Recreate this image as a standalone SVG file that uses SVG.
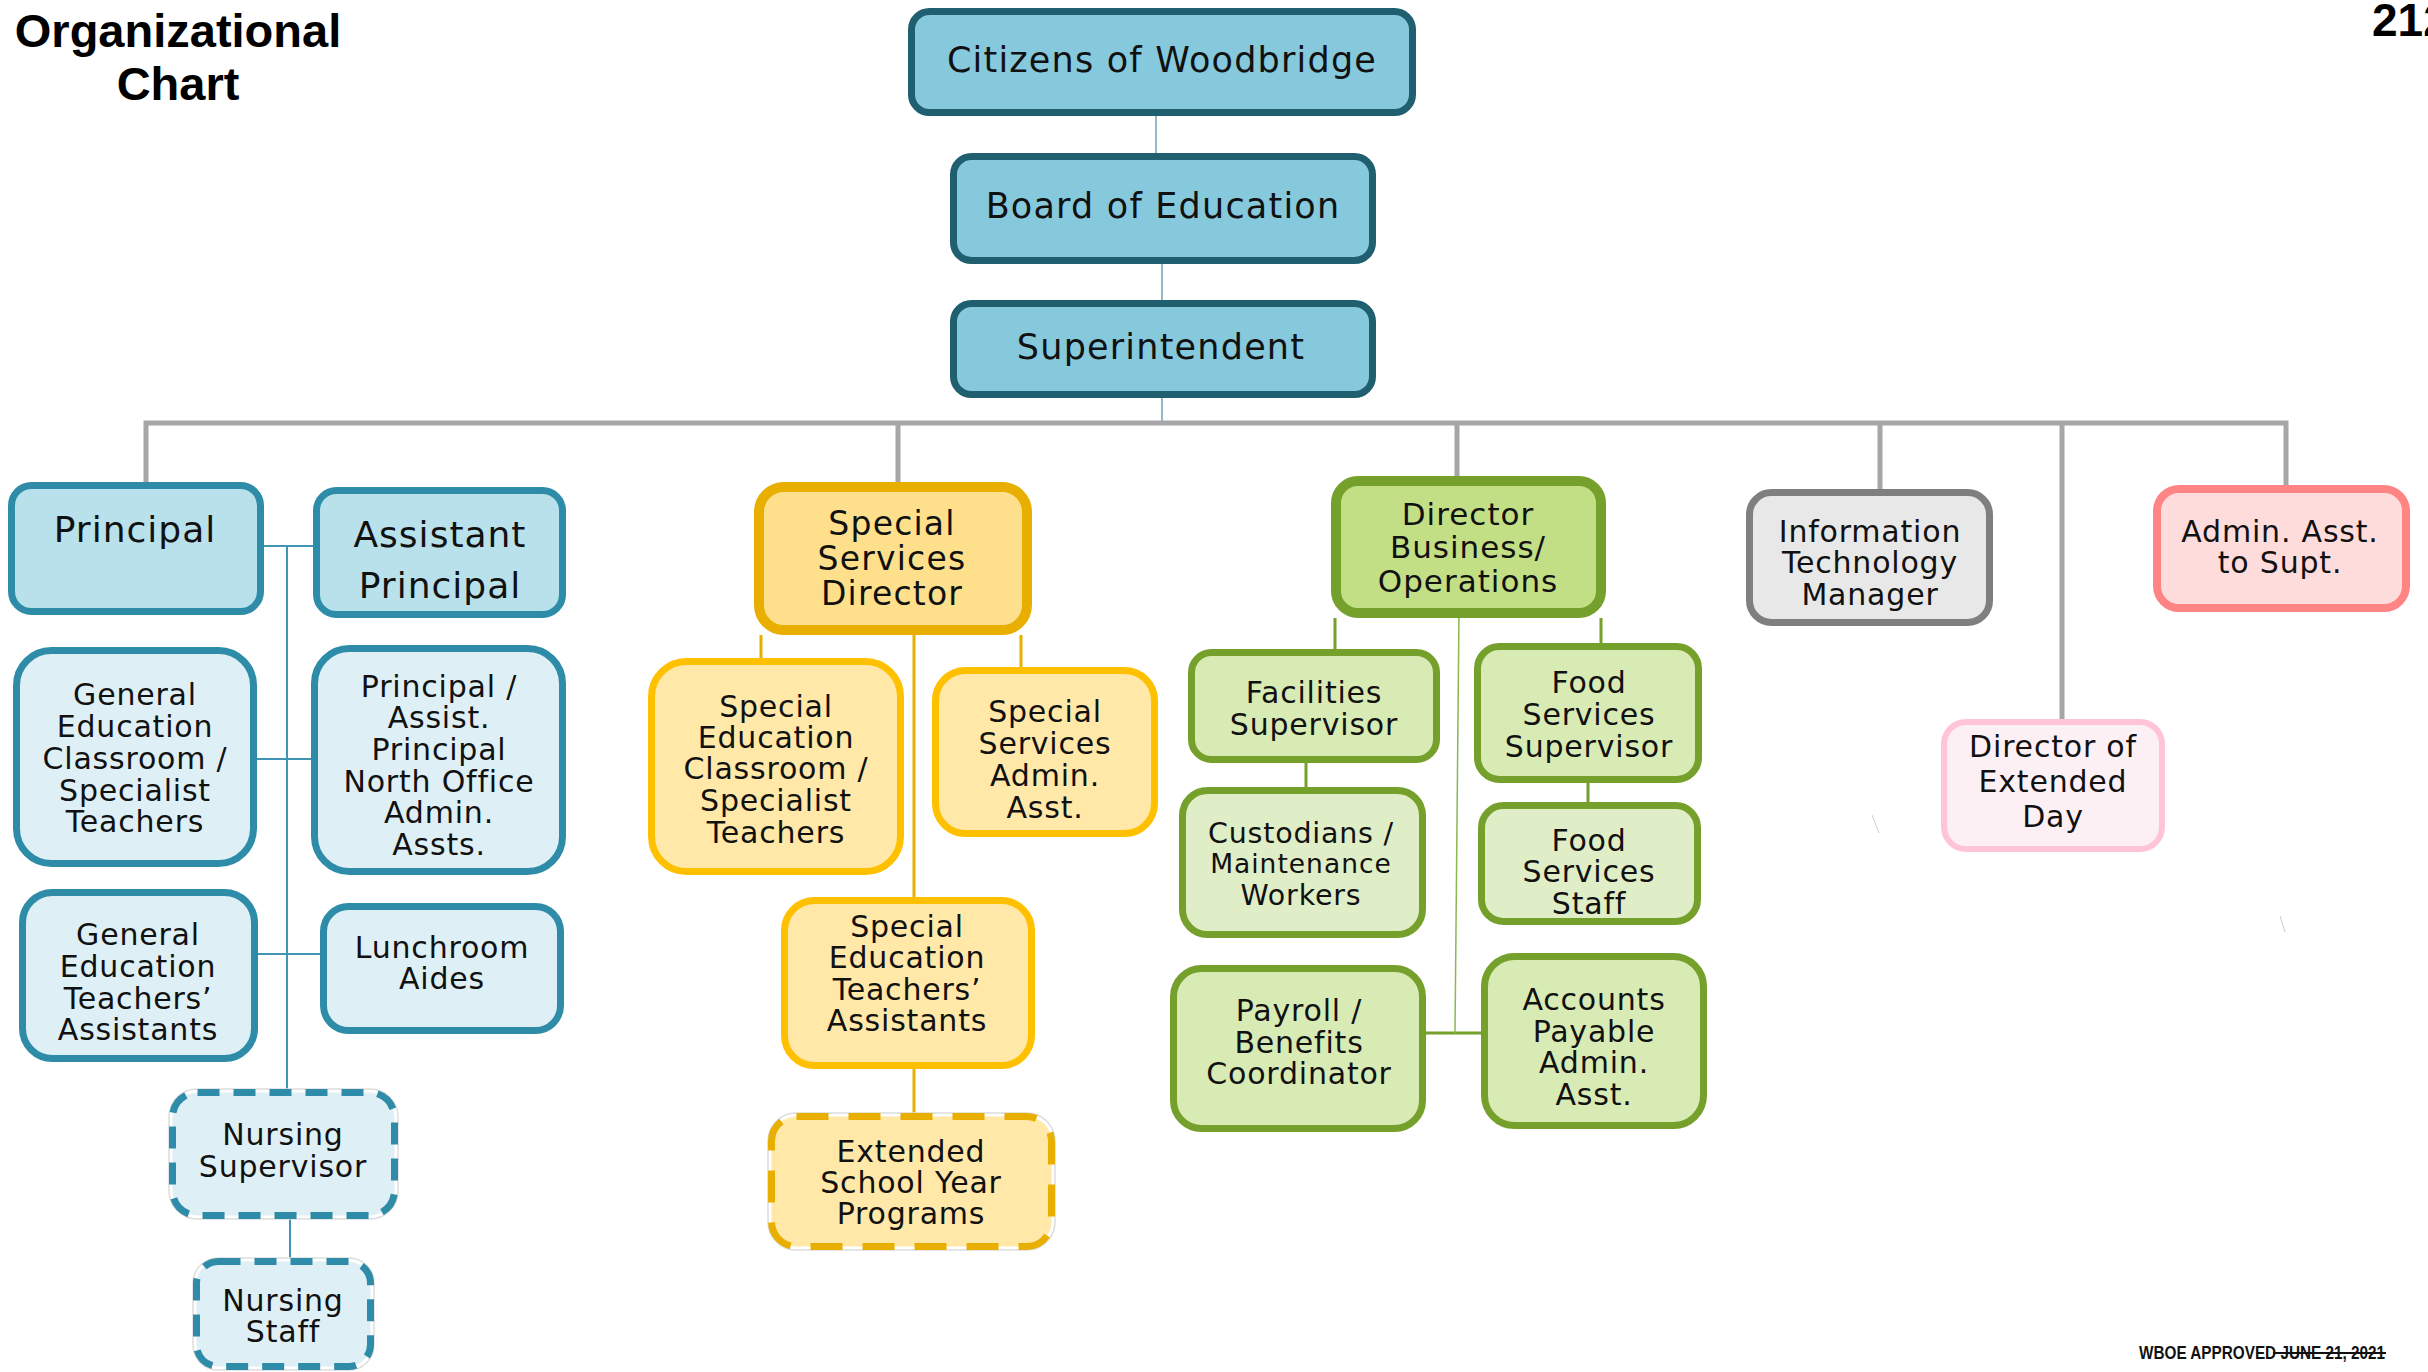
<svg xmlns="http://www.w3.org/2000/svg" width="2428" height="1372" viewBox="0 0 2428 1372">
<style>
.t{font-family:"DejaVu Sans",Verdana,sans-serif;fill:#111;text-anchor:middle}
.t1{font-size:35px;letter-spacing:1.2px}
.t2{font-size:36px;letter-spacing:1px}
.t3{font-size:33px;letter-spacing:1.2px}
.t4{font-size:31px;letter-spacing:1px}
.b{font-size:30px;letter-spacing:0.8px}
.top{fill:#86c9dc;stroke:#1f5f70;stroke-width:7}
.pr{fill:#b8e1eb;stroke:#2e8ca8;stroke-width:7}
.lb{fill:#def0f6;stroke:#2e8ca8;stroke-width:7}
.lbd{fill:#def0f6;stroke:#2e8ca8;stroke-width:7;stroke-dasharray:22 14}
.ssd{fill:#fee08c;stroke:#e8ae00;stroke-width:10}
.ye{fill:#ffe8a8;stroke:#ffc000;stroke-width:7}
.yed{fill:#ffe8a8;stroke:#e8ae00;stroke-width:7;stroke-dasharray:32 20}
.dbo{fill:#c3df86;stroke:#76a02c;stroke-width:10}
.gr{fill:#d8ebb5;stroke:#76a02c;stroke-width:7}
.gr2{fill:#dfeec6;stroke:#76a02c;stroke-width:7}
.it{fill:#e8e8e8;stroke:#7f7f7f;stroke-width:7}
.ad{fill:#ffdcdc;stroke:#ff8585;stroke-width:8}
.ex{fill:#fdf0f5;stroke:#ffc3da;stroke-width:6}
.ghost{fill:none;stroke:#dddddd;stroke-width:1.5}
.c-gray{fill:none;stroke:#a6a6a6;stroke-width:5}
.c-top{fill:none;stroke:#6fa3b3;stroke-width:1.5}
.c-teal{fill:none;stroke:#3f95b3;stroke-width:2}
.c-gold{fill:none;stroke:#e8ae00;stroke-width:3}
.c-green{fill:none;stroke:#76a02c;stroke-width:3}
.c-green-thin{fill:none;stroke:#8bb850;stroke-width:1.5}
</style>
<rect width="2428" height="1372" fill="#ffffff"/>

<g id="title">
<text x="178" y="47" font-family="Liberation Sans, Arial, sans-serif" font-weight="bold" font-size="47" text-anchor="middle" fill="#000">Organizational</text>
<text x="178" y="100" font-family="Liberation Sans, Arial, sans-serif" font-weight="bold" font-size="47" text-anchor="middle" fill="#000">Chart</text>
</g>
<text id="page-number" x="2372" y="36" font-family="Liberation Sans, Arial, sans-serif" font-weight="bold" font-size="46" fill="#000">212</text>

<g id="connectors">
<path class="c-top" d="M1156,116V153M1162,264V300M1162,398V423"/>
<path class="c-gray" d="M146,483V423H2286V487M898,423V484M1457,423V478M1880,423V491M2062,423V720"/>
<path class="c-teal" d="M264,546H313M287,546V1089M257,759H311M258,954H320M290,1219V1258"/>
<path class="c-gold" d="M761,635V658M914,625V897M1021,635V667M914,1069V1113"/>
<path class="c-green" d="M1335,618V649M1601,618V643M1306,763V787M1588,783V802M1426,1033H1481"/>
<path class="c-green-thin" d="M1459,612L1455,1033"/>
</g>

<g id="citizens"><rect class="top" x="911.5" y="11.5" width="501" height="101" rx="18"/><text class="t t1" x="1162" y="72">Citizens of Woodbridge</text></g>
<g id="board"><rect class="top" x="953.5" y="156.5" width="419" height="104" rx="18"/><text class="t t1" x="1163" y="218">Board of Education</text></g>
<g id="superintendent"><rect class="top" x="953.5" y="303.5" width="419" height="91" rx="18"/><text class="t t1" x="1161" y="359">Superintendent</text></g>

<g id="principal"><rect class="pr" x="11.5" y="485.5" width="249" height="126" rx="20"/><text class="t t2" x="135" y="542">Principal</text></g>
<g id="assistant-principal"><rect class="pr" x="316.5" y="490.5" width="246" height="124" rx="20"/><text class="t t2" x="440" y="547">Assistant</text><text class="t t2" x="440" y="598">Principal</text></g>
<g id="gen-ed-teachers"><rect class="lb" x="16.5" y="650.5" width="237" height="213" rx="35"/>
<text class="t b" x="135" y="705">General</text><text class="t b" x="135" y="737">Education</text><text class="t b" x="135" y="769">Classroom /</text><text class="t b" x="135" y="801">Specialist</text><text class="t b" x="135" y="832">Teachers</text></g>
<g id="principal-admin-assts"><rect class="lb" x="314.5" y="648.5" width="248" height="223" rx="35"/>
<text class="t b" x="439" y="697">Principal /</text><text class="t b" x="439" y="728">Assist.</text><text class="t b" x="439" y="760">Principal</text><text class="t b" x="439" y="792">North Office</text><text class="t b" x="439" y="823">Admin.</text><text class="t b" x="439" y="855">Assts.</text></g>
<g id="gen-ed-assistants"><rect class="lb" x="22.5" y="892.5" width="232" height="166" rx="30"/>
<text class="t b" x="138" y="945">General</text><text class="t b" x="138" y="977">Education</text><text class="t b" x="138" y="1009">Teachers’</text><text class="t b" x="138" y="1040">Assistants</text></g>
<g id="lunchroom-aides"><rect class="lb" x="323.5" y="906.5" width="237" height="124" rx="25"/>
<text class="t b" x="442" y="958">Lunchroom</text><text class="t b" x="442" y="989">Aides</text></g>
<g id="nursing-supervisor"><rect class="ghost" x="169" y="1089" width="229" height="130" rx="28"/><rect class="lbd" x="172.5" y="1092.5" width="222" height="123" rx="25"/>
<text class="t b" x="283" y="1145">Nursing</text><text class="t b" x="283" y="1177">Supervisor</text></g>
<g id="nursing-staff"><rect class="ghost" x="193" y="1258" width="181" height="112" rx="25"/><rect class="lbd" x="196.5" y="1261.5" width="174" height="105" rx="22"/>
<text class="t b" x="283" y="1311">Nursing</text><text class="t b" x="283" y="1342">Staff</text></g>

<g id="special-services-director"><rect class="ssd" x="759" y="487" width="268" height="143" rx="25"/>
<text class="t t3" x="892" y="535">Special</text><text class="t t3" x="892" y="570">Services</text><text class="t t3" x="892" y="605">Director</text></g>
<g id="sped-teachers"><rect class="ye" x="651.5" y="661.5" width="249" height="210" rx="35"/>
<text class="t b" x="776" y="717">Special</text><text class="t b" x="776" y="748">Education</text><text class="t b" x="776" y="779">Classroom /</text><text class="t b" x="776" y="811">Specialist</text><text class="t b" x="776" y="843">Teachers</text></g>
<g id="ss-admin-asst"><rect class="ye" x="935.5" y="670.5" width="219" height="163" rx="30"/>
<text class="t b" x="1045" y="722">Special</text><text class="t b" x="1045" y="754">Services</text><text class="t b" x="1045" y="786">Admin.</text><text class="t b" x="1045" y="818">Asst.</text></g>
<g id="sped-assistants"><rect class="ye" x="784.5" y="900.5" width="247" height="165" rx="30"/>
<text class="t b" x="907" y="937">Special</text><text class="t b" x="907" y="968">Education</text><text class="t b" x="907" y="1000">Teachers’</text><text class="t b" x="907" y="1031">Assistants</text></g>
<g id="extended-school-year"><rect class="ghost" x="768" y="1113" width="287" height="137" rx="28"/><rect class="yed" x="771.5" y="1116.5" width="280" height="130" rx="25"/>
<text class="t b" x="911" y="1162">Extended</text><text class="t b" x="911" y="1193">School Year</text><text class="t b" x="911" y="1224">Programs</text></g>

<g id="director-business"><rect class="dbo" x="1336" y="481" width="265" height="132" rx="22"/>
<text class="t t4" x="1468" y="525">Director</text><text class="t t4" x="1468" y="558">Business/</text><text class="t t4" x="1468" y="592">Operations</text></g>
<g id="facilities-supervisor"><rect class="gr" x="1191.5" y="652.5" width="245" height="107" rx="20"/>
<text class="t b" x="1314" y="703">Facilities</text><text class="t b" x="1314" y="735">Supervisor</text></g>
<g id="custodians"><rect class="gr2" x="1182.5" y="790.5" width="240" height="144" rx="25"/>
<text class="t" x="1301" y="843" font-size="28.5" letter-spacing="0.8">Custodians /</text><text class="t" x="1301" y="873" font-size="26.5" letter-spacing="1">Maintenance</text><text class="t" x="1301" y="905" font-size="28.5" letter-spacing="0.8">Workers</text></g>
<g id="food-services-supervisor"><rect class="gr" x="1477.5" y="646.5" width="221" height="133" rx="22"/>
<text class="t b" x="1589" y="693">Food</text><text class="t b" x="1589" y="725">Services</text><text class="t b" x="1589" y="757">Supervisor</text></g>
<g id="food-services-staff"><rect class="gr2" x="1481.5" y="805.5" width="216" height="116" rx="22"/>
<text class="t b" x="1589" y="851">Food</text><text class="t b" x="1589" y="882">Services</text><text class="t b" x="1589" y="914">Staff</text></g>
<g id="payroll"><rect class="gr" x="1173.5" y="968.5" width="249" height="160" rx="28"/>
<text class="t b" x="1299" y="1021">Payroll /</text><text class="t b" x="1299" y="1053">Benefits</text><text class="t b" x="1299" y="1084">Coordinator</text></g>
<g id="accounts-payable"><rect class="gr" x="1484.5" y="956.5" width="219" height="169" rx="30"/>
<text class="t b" x="1594" y="1010">Accounts</text><text class="t b" x="1594" y="1042">Payable</text><text class="t b" x="1594" y="1073">Admin.</text><text class="t b" x="1594" y="1105">Asst.</text></g>

<g id="it-manager"><rect class="it" x="1749.5" y="492.5" width="240" height="130" rx="22"/>
<text class="t b" x="1870" y="542">Information</text><text class="t b" x="1870" y="573">Technology</text><text class="t b" x="1870" y="605">Manager</text></g>
<g id="director-extended-day"><rect class="ex" x="1944" y="722" width="218" height="127" rx="22"/>
<text class="t b" x="2053" y="757">Director of</text><text class="t b" x="2053" y="792">Extended</text><text class="t b" x="2053" y="827">Day</text></g>
<g id="admin-asst-supt"><rect class="ad" x="2157" y="489" width="249" height="119" rx="22"/>
<text class="t b" x="2280" y="542">Admin. Asst.</text><text class="t b" x="2280" y="573">to Supt.</text></g>

<g id="marks" stroke="#cccccc" stroke-width="1">
<line x1="1872" y1="815" x2="1879" y2="833"/>
<line x1="2280" y1="916" x2="2285" y2="932"/>
</g>

<g id="approval">
<text x="2139" y="1359" font-family="Liberation Sans, Arial, sans-serif" font-size="18" font-weight="bold" fill="#111" textLength="246" lengthAdjust="spacingAndGlyphs">WBOE APPROVED JUNE 21, 2021</text>
<line x1="2273" y1="1353" x2="2386" y2="1353" stroke="#111" stroke-width="2"/>
</g>
</svg>
